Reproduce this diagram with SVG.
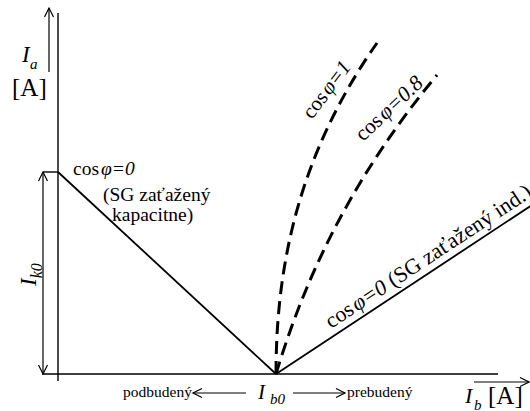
<svg xmlns="http://www.w3.org/2000/svg" width="530" height="411" viewBox="0 0 530 411">
<defs>
<style>
.ax{stroke:#000;stroke-width:1.4;fill:none}
.ln{stroke:#000;stroke-width:1.8;fill:none}
.ds{stroke:#000;stroke-width:3;fill:none;stroke-dasharray:13 7}
.ar{stroke:#000;stroke-width:1.2;fill:none}
text{font-family:"Liberation Serif","Times New Roman",serif;fill:#000}
.it{font-style:italic}
.lb{font-size:19.5px}
.sm{font-size:15.5px}
</style>
<marker id="ah" markerUnits="userSpaceOnUse" markerWidth="14" markerHeight="14" refX="9" refY="5" orient="auto-start-reverse" overflow="visible">
<path d="M0,0.5 L9,5 L0,9.5" fill="none" stroke="#000" stroke-width="1.2"/>
</marker>
</defs>
<rect width="530" height="411" fill="#fff"/>
<g id="axes">
<line class="ax" x1="58" y1="13" x2="58" y2="381"/>
<line class="ax" x1="42" y1="374" x2="498" y2="374"/>
<line class="ar" x1="49" y1="72" x2="49" y2="8" marker-end="url(#ah)"/>
<line class="ar" x1="474" y1="382" x2="529" y2="382" marker-end="url(#ah)"/>
<line class="ar" x1="43" y1="172" x2="43" y2="374" marker-start="url(#ah)" marker-end="url(#ah)"/>
<line class="ax" x1="43" y1="172" x2="58" y2="172"/>
<line class="ar" x1="246" y1="393" x2="193" y2="393" marker-end="url(#ah)"/>
<line class="ar" x1="293" y1="393" x2="345" y2="393" marker-end="url(#ah)"/>
</g>
<g id="curves">
<line class="ln" x1="58" y1="172" x2="276" y2="374"/>
<line class="ln" x1="276" y1="374" x2="532" y2="205"/>
<path class="ds" d="M276,374 C276,263.7 299.5,153.3 377,43"/>
<path class="ds" d="M276,374 C305.9,274.3 354.2,174.7 437,75"/>
</g>
<g id="labels">
<text x="22" y="62" font-size="23" class="it">I<tspan x="30" y="69" font-size="15">a</tspan></text>
<text x="12" y="96" font-size="25">[A]</text>
<text transform="translate(36,286) rotate(-90)" font-size="23" class="it">I<tspan dy="6" font-size="16">k0</tspan></text>
<text x="73" y="175" class="lb">cos<tspan class="it" dx="2">φ=0</tspan></text>
<text x="103" y="201" class="lb">(SG zaťažený</text>
<text x="112" y="221" class="lb">kapacitne)</text>
<text x="123" y="397" class="sm">podbudený</text>
<text x="347" y="397" class="sm">prebudený</text>
<text x="258" y="399" font-size="21" class="it">I<tspan x="270" y="404" font-size="15">b0</tspan></text>
<text x="465" y="403" font-size="22" class="it">I<tspan x="474" y="410" font-size="15">b</tspan></text>
<text x="488" y="404" font-size="25">[A]</text>
<text transform="translate(312,120) rotate(-53)" font-size="21">cos<tspan class="it" dx="2">φ=1</tspan></text>
<text transform="translate(363,142) rotate(-43)" font-size="21.5">cos<tspan class="it" dx="2">φ=0.8</tspan></text>
<text transform="translate(331,329) rotate(-33.4)" font-size="22">cos<tspan class="it" dx="2">φ=0</tspan> (SG zaťažený ind.)</text>
</g>
</svg>
